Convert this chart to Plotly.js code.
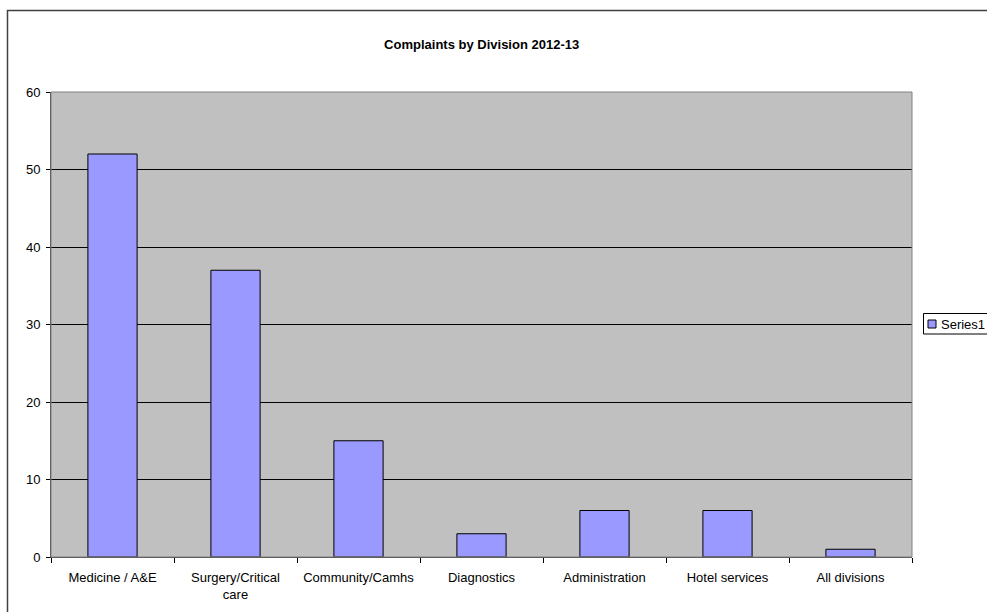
<!DOCTYPE html>
<html>
<head>
<meta charset="utf-8">
<script src="https://cdn.plot.ly/plotly-3.0.1.min.js"></script>
<style>html,body{margin:0;padding:0;background:#fff;}</style>
</head>
<body>
<div id="chart" style="width:987px;height:612px;"></div>
<script>
const categories = ["Medicine / A&E", "Surgery/Critical<br>care", "Community/Camhs", "Diagnostics", "Administration", "Hotel services", "All divisions"];
const values = [52, 37, 15, 3, 6, 6, 1];
const seriesName = "Series1";
const titleText = "Complaints by Division 2012-13";

const L = 51, R = 912, T = 92, B = 557, W = 987, H = 612;
const pw = R - L, ph = B - T;
const px = v => (v - L) / pw;
const py = v => (B - v) / ph;
const FONT = "Liberation Sans, Arial, sans-serif";
const barColor = "#9999FF";

const trace = {
  type: "bar",
  x: categories,
  y: values,
  name: seriesName,
  marker: { color: barColor, line: { color: "#000000", width: 1 } },
  showlegend: false,
  hoverinfo: "x+y"
};

const layout = {
  width: W, height: H,
  margin: { l: L, r: W - R, t: T, b: H - B, pad: 0, autoexpand: false },
  paper_bgcolor: "#FFFFFF",
  plot_bgcolor: "#C0C0C0",
  font: { family: FONT, size: 13, color: "#000" },
  title: {
    text: "<b>" + titleText + "</b>",
    font: { family: FONT, size: 13, color: "#000" },
    x: 0.488, xanchor: "center", y: 1 - 44 / H, yanchor: "middle"
  },
  bargap: 0.6,
  showlegend: false,
  xaxis: {
    type: "category",
    automargin: false,
    showgrid: false,
    showline: true, linecolor: "#404040", linewidth: 1,
    ticks: "outside", tickson: "boundaries", ticklen: 5, tickcolor: "#000", tickwidth: 1,
    tickfont: { size: 13 },
    ticklabelstandoff: 8,
    zeroline: false,
    fixedrange: true
  },
  yaxis: {
    automargin: false,
    range: [0, 60],
    dtick: 10,
    showgrid: true, gridcolor: "#000000", gridwidth: 1,
    showline: true, linecolor: "#404040", linewidth: 1,
    ticks: "outside", ticklen: 4, tickcolor: "#000", tickwidth: 1,
    tickfont: { size: 13 },
    ticklabelstandoff: 3,
    zeroline: false,
    fixedrange: true
  },
  shapes: [
    { type: "rect", xref: "paper", yref: "paper", x0: 0, x1: 1, y0: 0, y1: 1,
      line: { color: "#808080", width: 1 }, layer: "above" },
    { type: "rect", xref: "paper", yref: "paper",
      x0: px(7.5), x1: px(1000), y0: py(640), y1: py(10.5),
      line: { color: "#404040", width: 1.5 }, fillcolor: "rgba(0,0,0,0)", layer: "below" },
    // legend box
    { type: "rect", xref: "paper", yref: "paper",
      x0: px(923.5), x1: px(1000), y0: py(334), y1: py(313.5),
      line: { color: "#000", width: 1 }, fillcolor: "#FFFFFF", layer: "above" },
    // legend symbol
    { type: "rect", xref: "paper", yref: "paper",
      x0: px(928), x1: px(936), y0: py(328), y1: py(320),
      line: { color: "#000", width: 1 }, fillcolor: barColor, layer: "above" }
  ],
  annotations: [
    { xref: "paper", yref: "paper", x: px(939), y: py(324), xanchor: "left", yanchor: "middle",
      text: seriesName, showarrow: false, font: { family: FONT, size: 13, color: "#000" } }
  ]
};

Plotly.newPlot("chart", [trace], layout, { displayModeBar: false, staticPlot: true });
</script>
</body>
</html>
